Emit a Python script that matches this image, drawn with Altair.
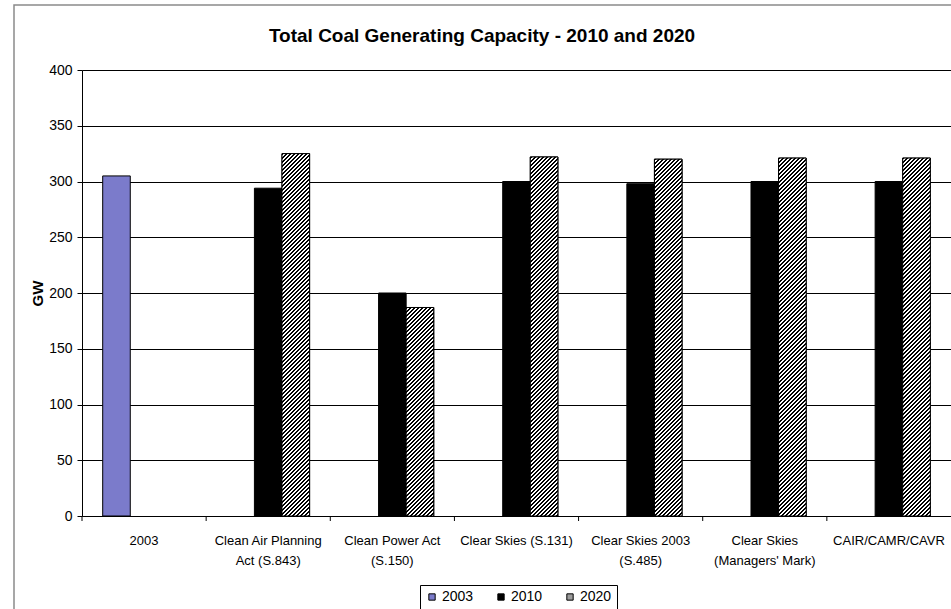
import math

import altair as alt
import pandas as pd

# ---- data -------------------------------------------------------------
categories = [
    "2003",
    "Clean Air Planning\nAct (S.843)",
    "Clean Power Act\n(S.150)",
    "Clear Skies (S.131)",
    "Clear Skies 2003\n(S.485)",
    "Clear Skies\n(Managers' Mark)",
    "CAIR/CAMR/CAVR",
]
series = ["2003", "2010", "2020"]
gw_2003 = [305, None, None, None, None, None, None]
gw_2010 = [None, 294, 200, 300, 298, 300, 300]
gw_2020 = [None, 325, 187, 322, 320, 321, 321]
y_ticks = [0, 50, 100, 150, 200, 250, 300, 350, 400]
title_text = "Total Coal Generating Capacity - 2010 and 2020"

rows = []
for s, vals in zip(series, [gw_2003, gw_2010, gw_2020]):
    for c, v in zip(categories, vals):
        if v is not None:
            rows.append({"category": c, "series": s, "gw": v})
df = pd.DataFrame(rows)

# ---- layout -----------------------------------------------------------
PLOT_W, PLOT_H = 869, 446
LEFT, TOP = 82, 70
Y_MAX = 400
OFFSET_PAD = 0.75
SLOT_W = PLOT_W / len(categories) / (len(series) + 2 * OFFSET_PAD)

TEXT_FONT = "Liberation Sans, Arial"
BOLD_FONT = "Liberation Sans, Arial"

x_scale = alt.Scale(domain=categories, paddingInner=0, paddingOuter=0)
xo_scale = alt.Scale(domain=series, paddingInner=0, paddingOuter=OFFSET_PAD)
y_scale = alt.Scale(domain=[0, Y_MAX], nice=False, zero=True)
color_scale = alt.Scale(domain=series, range=["#7b7bcb", "#000000", "#9c9c9c"])


def hatch(value, period=4.0, dark=0.45):
    """Diagonal '/' hatching for one bar as a striped linear gradient.

    The gradient runs along x + y (pixels inside the bar), so the stripes
    sit at 45 degrees with an exact pixel period.
    """
    h = value * PLOT_H / Y_MAX
    w = SLOT_W
    n = math.ceil((w + h) / period)
    span = n * period
    c = span / (w * w + h * h)
    stops = []
    for i in range(n):
        a = i / n
        b = (i + dark) / n
        e = (i + 1) / n
        stops += [
            alt.GradientStop(offset=a, color="#000000"),
            alt.GradientStop(offset=b, color="#000000"),
            alt.GradientStop(offset=b, color="#ffffff"),
            alt.GradientStop(offset=e, color="#ffffff"),
        ]
    return alt.LinearGradient(
        gradient="linear", stops=stops, x1=0, y1=0, x2=w * c, y2=h * c
    )


x_axis = alt.Axis(
    labelExpr="split(datum.label, '\\n')",
    labelAngle=0,
    labelAlign="center",
    labelBaseline="top",
    labelPadding=18,
    labelLineHeight=20,
    labelFont=TEXT_FONT,
    labelFontSize=13,
    labelColor="#000000",
    ticks=False,
    domainColor="#000000",
    domainWidth=1,
    grid=False,
    labelOverlap=False,
    zindex=1,
)
x_enc = alt.X("category:N", scale=x_scale, sort=categories, title=None, axis=x_axis)
xo_enc = alt.XOffset("series:N", scale=xo_scale, sort=series)
y_enc = alt.Y(
    "gw:Q",
    scale=y_scale,
    title="GW",
    axis=alt.Axis(
        values=y_ticks,
        format="d",
        labelFont=TEXT_FONT,
        labelFontSize=14,
        labelColor="#000000",
        labelPadding=5,
        tickSize=5,
        tickColor="#000000",
        domainColor="#000000",
        gridColor="#000000",
        gridWidth=1,
        titleFont=BOLD_FONT,
        titleFontSize=15,
        titleFontWeight="bold",
        titleColor="#000000",
        titleAngle=-90,
        titleX=-45,
        titleY=PLOT_H / 2,
        titleAlign="center",
        titleBaseline="middle",
    ),
)

one_row = pd.DataFrame({"f": [0]})

# outer chart frame
frame = alt.Chart(one_row).mark_rect(
    filled=False, stroke="#8a8a8a", strokeWidth=1.5
).encode(
    x=alt.value(14 - LEFT),
    x2=alt.value(PLOT_W + 60),
    y=alt.value(5 - TOP),
    y2=alt.value(PLOT_H + 200),
)

# chart title, centred on the frame
title = alt.Chart(one_row).mark_text(
    font=BOLD_FONT,
    fontSize=19,
    fontWeight="bold",
    color="#000000",
    align="center",
    baseline="alphabetic",
).encode(
    x=alt.value(482 - LEFT),
    y=alt.value(42 - TOP),
    text=alt.value(title_text),
)

bars = alt.Chart(df).mark_bar(stroke="#000000", strokeWidth=1).encode(
    x=x_enc,
    xOffset=xo_enc,
    y=y_enc,
    color=alt.Color(
        "series:N",
        scale=color_scale,
        sort=series,
        legend=alt.Legend(
            title=None,
            orient="none",
            direction="horizontal",
            legendX=338,
            legendY=515,
            padding=5,
            strokeColor="#000000",
            fillColor="#ffffff",
            symbolType="square",
            symbolSize=40,
            symbolStrokeColor="#000000",
            symbolStrokeWidth=1,
            labelFont=TEXT_FONT,
            labelFontSize=14,
            labelColor="#000000",
            labelOffset=3,
            columnPadding=20,
        ),
    ),
)

# hatched overlay for each 2020 bar
hatched = []
for c, v in zip(categories, gw_2020):
    if v is None:
        continue
    hatched.append(
        alt.Chart(df)
        .transform_filter(alt.FieldEqualPredicate(field="category", equal=c))
        .transform_filter(alt.FieldEqualPredicate(field="series", equal="2020"))
        .mark_bar(fill=hatch(v), stroke="#000000", strokeWidth=1)
        .encode(x=x_enc, xOffset=xo_enc, y=y_enc)
    )

# category boundary ticks on the x axis
ticks = alt.Chart(pd.DataFrame({"category": categories})).mark_rule(
    color="#000000", strokeWidth=1
).encode(
    x=alt.X(
        "category:N",
        scale=x_scale,
        sort=categories,
        bandPosition=0,
        title=None,
        axis=x_axis,
    ),
    y=alt.value(PLOT_H),
    y2=alt.value(PLOT_H + 5),
)

chart = (
    alt.layer(frame, title, bars, *hatched, ticks)
    .properties(
        width=PLOT_W,
        height=PLOT_H,
        padding={"left": LEFT, "top": TOP, "right": 0, "bottom": 609 - TOP - PLOT_H},
        autosize=alt.AutoSizeParams(type="none"),
    )
    .configure_view(stroke=None)
    .configure(background="#ffffff")
)

chart.save("out.html", embed_options={"renderer": "svg", "actions": False})
